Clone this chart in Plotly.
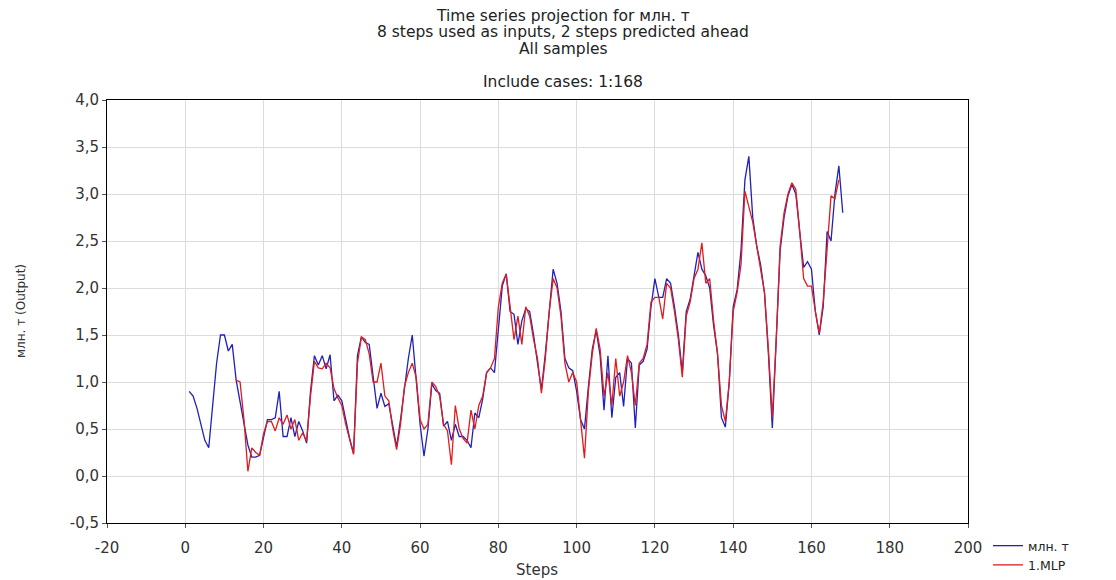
import plotly.graph_objects as go

# ---- data ----
steps_actual = list(range(1, 169))
actual = [
    0.90, 0.85, 0.72, 0.55, 0.38, 0.30, 0.75, 1.20, 1.50, 1.50,   # 1-10
    1.33, 1.40, 1.02, 0.80, 0.55, 0.33, 0.20, 0.20, 0.22, 0.40,   # 11-20
    0.60, 0.60, 0.62, 0.90, 0.42, 0.42, 0.62, 0.42, 0.58, 0.48,   # 21-30
    0.35, 0.90, 1.28, 1.18, 1.28, 1.14, 1.29, 0.80, 0.86, 0.80,   # 31-40
    0.60, 0.40, 0.24, 1.28, 1.48, 1.42, 1.40, 1.05, 0.72, 0.88,   # 41-50
    0.74, 0.77, 0.55, 0.31, 0.60, 0.95, 1.25, 1.50, 1.05, 0.55,   # 51-60
    0.21, 0.50, 0.98, 0.91, 0.88, 0.53, 0.58, 0.38, 0.55, 0.42,   # 61-70
    0.42, 0.38, 0.30, 0.67, 0.62, 0.82, 1.10, 1.15, 1.10, 1.60,   # 71-80
    2.02, 2.15, 1.75, 1.72, 1.40, 1.65, 1.78, 1.75, 1.50, 1.20,   # 81-90
    0.92, 1.30, 1.75, 2.20, 2.05, 1.75, 1.25, 1.15, 1.12, 0.90,   # 91-100
    0.60, 0.50, 0.95, 1.35, 1.55, 1.28, 0.70, 1.28, 0.62, 1.05,   # 101-110
    1.10, 0.74, 1.25, 1.20, 0.51, 1.18, 1.22, 1.35, 1.80, 2.10,   # 111-120
    1.90, 1.90, 2.10, 2.05, 1.80, 1.50, 1.10, 1.75, 1.88, 2.15,   # 121-130
    2.38, 2.20, 2.13, 2.00, 1.60, 1.30, 0.62, 0.52, 1.00, 1.80,   # 131-140
    1.98, 2.40, 3.15, 3.40, 2.75, 2.45, 2.25, 1.95, 1.30, 0.51,   # 141-150
    1.40, 2.40, 2.75, 2.98, 3.10, 3.00, 2.60, 2.22, 2.28, 2.20,   # 151-160
    1.75, 1.50, 1.80, 2.60, 2.50, 3.00, 3.30, 2.80,               # 161-168
]

steps_pred = list(range(13, 168))
predicted = [
    1.02, 1.00, 0.60, 0.05, 0.30, 0.25, 0.22, 0.45,               # 13-20
    0.58, 0.58, 0.48, 0.62, 0.55, 0.65, 0.50, 0.60, 0.38, 0.46,   # 21-30
    0.37, 0.85, 1.22, 1.15, 1.14, 1.20, 1.15, 0.93, 0.83, 0.75,   # 31-40
    0.55, 0.40, 0.23, 1.20, 1.48, 1.45, 1.30, 1.00, 1.00, 1.20,   # 41-50
    0.85, 0.80, 0.50, 0.28, 0.55, 0.95, 1.10, 1.20, 1.05, 0.60,   # 51-60
    0.50, 0.55, 1.00, 0.95, 0.85, 0.55, 0.48, 0.12, 0.75, 0.50,   # 61-70
    0.40, 0.35, 0.70, 0.50, 0.75, 0.85, 1.10, 1.15, 1.25, 1.80,   # 71-80
    2.05, 2.15, 1.80, 1.45, 1.70, 1.40, 1.80, 1.70, 1.45, 1.25,   # 81-90
    0.88, 1.25, 1.75, 2.10, 2.00, 1.70, 1.20, 1.00, 1.10, 1.00,   # 91-100
    0.60, 0.19, 0.90, 1.30, 1.57, 1.35, 0.85, 1.10, 0.75, 1.25,   # 101-110
    0.85, 1.00, 1.28, 1.10, 0.75, 1.20, 1.25, 1.40, 1.85, 1.90,   # 111-120
    1.90, 1.67, 2.05, 2.00, 1.75, 1.45, 1.05, 1.70, 1.85, 2.10,   # 121-130
    2.20, 2.48, 2.05, 2.10, 1.65, 1.30, 0.75, 0.58, 1.00, 1.75,   # 131-140
    1.95, 2.25, 3.03, 2.85, 2.70, 2.45, 2.20, 1.95, 1.35, 0.62,   # 141-150
    1.45, 2.45, 2.80, 3.00, 3.12, 3.05, 2.60, 2.10, 2.02, 2.02,   # 151-160
    1.75, 1.52, 1.85, 2.45, 2.98, 2.95, 3.15,                     # 161-167
]

x_ticks = [-20, 0, 20, 40, 60, 80, 100, 120, 140, 160, 180, 200]
y_ticks = [-0.5, 0.0, 0.5, 1.0, 1.5, 2.0, 2.5, 3.0, 3.5, 4.0]
y_ticktext = [f"{v:.1f}".replace(".", ",") for v in y_ticks]

title_lines = [
    "Time series projection for млн. т",
    "8 steps used as inputs, 2 steps predicted ahead",
    "All samples",
    "Include cases: 1:168",
]
x_title = "Steps"
y_title = "млн. т (Output)"

FONT = "DejaVu Sans, Verdana, sans-serif"

fig = go.Figure()
fig.add_trace(go.Scatter(x=steps_actual, y=actual, mode="lines", name="млн. т",
                         line=dict(color="#2020bb", width=1.3)))
fig.add_trace(go.Scatter(x=steps_pred, y=predicted, mode="lines", name="1.MLP",
                         line=dict(color="#e01c1c", width=1.3)))

# The page puts the figure 8 px in from the top-left; positions below are in
# screenshot pixels and are shifted by that offset.
OFF = 8
W, H = 1116 - OFF, 580 - OFF
plot_left, plot_right, plot_top, plot_bottom = 107, 968, 100, 523  # screenshot px
L = plot_left - OFF
T = plot_top - OFF
R = W - (plot_right - OFF)
B = H - (plot_bottom - OFF)
plot_h = H - T - B
plot_w = W - L - R


def px_x(px):
    return (px - plot_left) / plot_w


def px_y(py):
    return (plot_bottom - py) / plot_h


title_y_px = [16, 32, 49, 82]
for txt, py in zip(title_lines, title_y_px):
    fig.add_annotation(text=txt, xref="paper", yref="paper",
                       x=px_x(563), y=px_y(py),
                       xanchor="center", yanchor="middle", showarrow=False,
                       font=dict(family=FONT, size=15.5, color="#222222"))

fig.add_annotation(text=x_title, xref="paper", yref="paper", x=px_x(537), y=px_y(570),
                   xanchor="center", yanchor="middle", showarrow=False,
                   font=dict(family=FONT, size=15, color="#333333"))
fig.add_annotation(text=y_title, xref="paper", yref="paper", x=px_x(21), y=px_y(311),
                   xanchor="center", yanchor="middle", showarrow=False, textangle=-90,
                   font=dict(family=FONT, size=12, color="#333333"))

fig.update_layout(
    width=W, height=H,
    margin=dict(l=L, r=R, t=T, b=B, autoexpand=False),
    paper_bgcolor="white", plot_bgcolor="white",
    font=dict(family=FONT, size=15, color="#333333"),
    showlegend=True,
    legend=dict(x=px_x(988), y=px_y(531),
                xanchor="left", yanchor="top",
                font=dict(family=FONT, size=12.5, color="#222222"),
                bgcolor="rgba(0,0,0,0)", tracegroupgap=0, itemwidth=30),
)
fig.update_xaxes(range=[-20, 200], tickvals=x_ticks, ticktext=[str(v) for v in x_ticks],
                 automargin=False, ticklabelstandoff=7,
                 showgrid=True, gridcolor="#dcdcdc", gridwidth=1, zeroline=False,
                 showline=True, linecolor="black", linewidth=1, mirror=True,
                 ticks="outside", ticklen=4, tickcolor="#555555")
fig.update_yaxes(range=[-0.5, 4.0], tickvals=y_ticks, ticktext=y_ticktext,
                 automargin=False,
                 showgrid=True, gridcolor="#dcdcdc", gridwidth=1, zeroline=False,
                 showline=True, linecolor="black", linewidth=1, mirror=True,
                 ticks="outside", ticklen=4, tickcolor="#555555")

fig.write_html("out.html")
